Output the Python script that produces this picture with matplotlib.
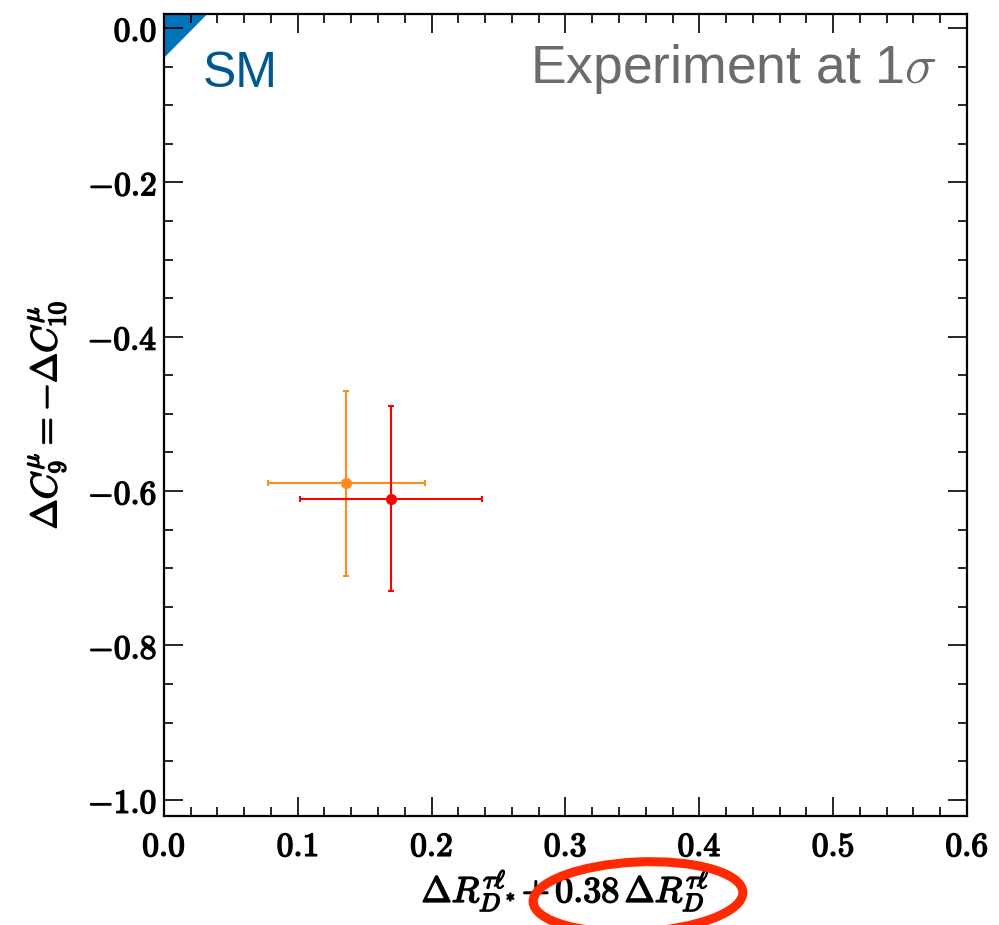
import numpy as np
import matplotlib
matplotlib.use('Agg')
import matplotlib.pyplot as plt
import matplotlib.patheffects as pe
from matplotlib.patches import Ellipse, Polygon

plt.rcParams['mathtext.fontset'] = 'cm'

# ---------------------------- Data ---------------------------- #
# best-fit points with 1 sigma errors
x_vals = [0.136, 0.170]
x_err_lo = [0.058, 0.068]
x_err_hi = [0.059, 0.068]
y_vals = [-0.590, -0.610]
y_err = [0.120, 0.120]
point_colors = ['#ff8c1a', '#ff0000']

# SM corner region (clipped by the axes)
sm_x = [0.0, 0.045, -0.01, -0.01]
sm_y = [-0.039, 0.04, 0.04, -0.056]

x_ticks = [0.0, 0.1, 0.2, 0.3, 0.4, 0.5, 0.6]
x_tick_labels = ['0.0', '0.1', '0.2', '0.3', '0.4', '0.5', '0.6']
y_ticks = [0.0, -0.2, -0.4, -0.6, -0.8, -1.0]
y_tick_labels = ['0.0', '-0.2', '-0.4', '-0.6', '-0.8', '-1.0']

# fake bold for the computer modern glyphs
bold = [pe.withStroke(linewidth=1.1, foreground='black')]

# ---------------------------- Plot ---------------------------- #
fig = plt.figure(figsize=(9.99, 9.25), dpi=100)
ax = fig.add_axes([0.164, 0.1178, 0.804, 0.867])

ax.add_patch(Polygon(np.column_stack([sm_x, sm_y]), closed=True,
                     facecolor='#0073b9', edgecolor='none', zorder=1))

for i in range(len(x_vals)):
  ax.errorbar(x_vals[i], y_vals[i],
              xerr=[[x_err_lo[i]], [x_err_hi[i]]], yerr=[[y_err[i]], [y_err[i]]],
              fmt='o', color=point_colors[i], ms=7, lw=1.5, capsize=2.5, capthick=1.5, zorder=3)

ax.set_xlim(0, 0.6)
ax.set_ylim(-1.021, 0.018)

ax.set_xticks(x_ticks)
ax.set_xticklabels(['$%s$' % t for t in x_tick_labels])
ax.set_yticks(y_ticks)
ax.set_yticklabels(['$%s$' % t for t in y_tick_labels])
ax.set_xticks(np.arange(0, 0.6001, 0.02), minor=True)
ax.set_yticks(np.arange(-1.0, 0.0001, 0.05), minor=True)

ax.tick_params(which='both', direction='in', top=True, right=True, labelsize=24)
ax.tick_params(which='major', length=14, width=1.2)
ax.tick_params(which='minor', length=6.5, width=1.2)
ax.tick_params(axis='x', pad=10)
ax.tick_params(axis='y', pad=5)
for lab in ax.get_xticklabels() + ax.get_yticklabels():
  lab.set_path_effects(bold)
for s in ax.spines.values():
  s.set_linewidth(1.6)

xl = ax.set_xlabel(r'$\Delta R_{D^*}^{\tau\ell}{+}\,0.38\,\Delta R_D^{\tau\ell}$', fontsize=26, labelpad=4)
yl = ax.set_ylabel(r'$\Delta C_9^{\mu} = -\Delta C_{10}^{\mu}$', fontsize=26, labelpad=14)
xl.set_path_effects(bold)
yl.set_path_effects(bold)

ax.text(0.0486, 0.909, 'SM', transform=ax.transAxes, fontsize=36,
        family='Liberation Sans', color='#00588e', va='baseline', ha='left')
ax.text(0.963, 0.914, r'Experiment at 1$\sigma$', transform=ax.transAxes, fontsize=38.5,
        family='Liberation Sans', color='#6b6b6b', va='baseline', ha='right')

# red annotation ellipse round the second term of the x label
fig.add_artist(Ellipse((638 / 999, 1 - 897 / 925), 210 / 999, 70 / 925, angle=3,
                       transform=fig.transFigure, fill=False, edgecolor='#ff2a00', lw=6.5,
                       zorder=10))

fig.savefig('out.png', dpi=100)
